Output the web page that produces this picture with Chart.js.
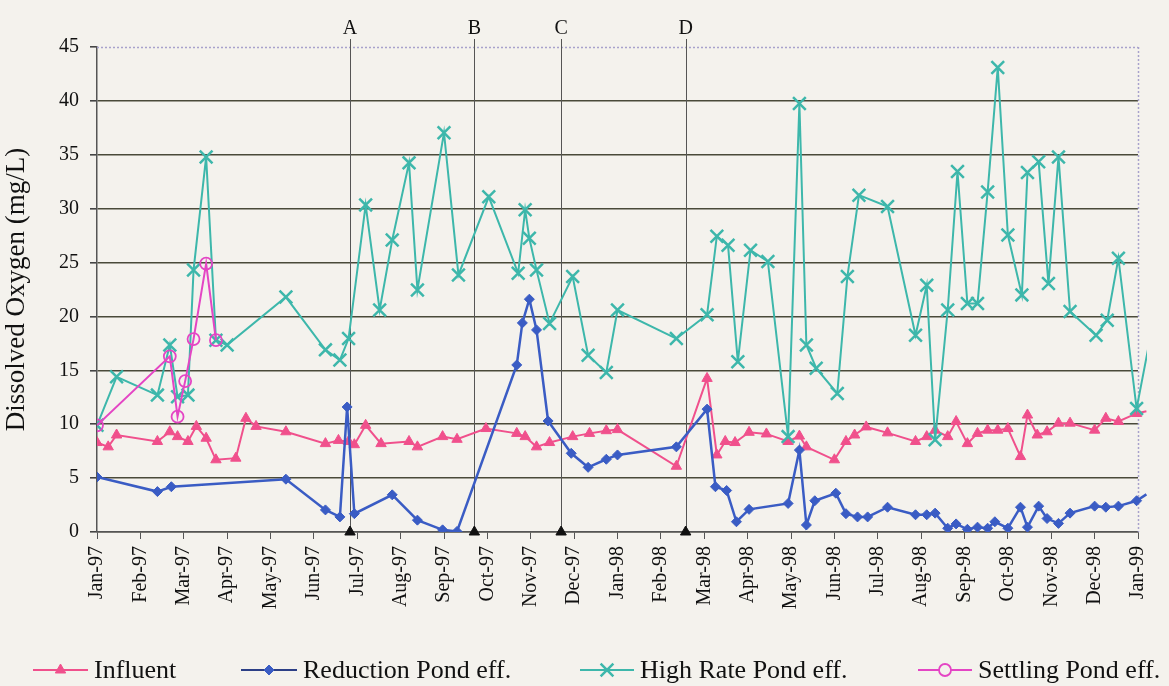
<!DOCTYPE html>
<html>
<head>
<meta charset="utf-8">
<script src="https://cdn.jsdelivr.net/npm/chart.js@4/dist/chart.umd.min.js"></script>
<style>
  html, body { margin: 0; background: #f4f2ed; }
  #wrap { width: 1169px; height: 686px; }
</style>
</head>
<body>
<div id="wrap"><canvas id="doChart" width="1169" height="686"></canvas></div>
<script>
// month tick labels (one per month, Jan-97 .. Jan-99)
const monthLabels = ["Jan-97","Feb-97","Mar-97","Apr-97","May-97","Jun-97","Jul-97","Aug-97","Sep-97","Oct-97","Nov-97","Dec-97",
  "Jan-98","Feb-98","Mar-98","Apr-98","May-98","Jun-98","Jul-98","Aug-98","Sep-98","Oct-98","Nov-98","Dec-98","Jan-99"];

// Influent
const influentDates = ["1997-01-01","1997-01-09","1997-01-15","1997-02-12","1997-02-20","1997-02-25","1997-03-04","1997-03-10","1997-03-17","1997-03-24",
  "1997-04-07","1997-04-14","1997-04-21","1997-05-12","1997-06-09","1997-06-18","1997-06-25","1997-06-29","1997-07-07","1997-07-18",
  "1997-08-07","1997-08-13","1997-08-31","1997-09-10","1997-09-30","1997-10-22","1997-10-28","1997-11-05","1997-11-14","1997-11-30",
  "1997-12-12","1997-12-24","1998-01-01","1998-02-11","1998-03-03","1998-03-10","1998-03-16","1998-03-23","1998-04-02","1998-04-14",
  "1998-04-29","1998-05-07","1998-05-12","1998-06-01","1998-06-09","1998-06-15","1998-06-23","1998-07-08","1998-07-28","1998-08-05",
  "1998-08-11","1998-08-20","1998-08-26","1998-09-03","1998-09-10","1998-09-17","1998-09-24","1998-10-01","1998-10-10","1998-10-15",
  "1998-10-22","1998-10-29","1998-11-06","1998-11-14","1998-12-01","1998-12-09","1998-12-18","1998-12-31","1999-01-07"];
const influentDO = [8.3,7.9,9.0,8.4,9.3,8.85,8.4,9.8,8.7,6.7,
  6.85,10.55,9.8,9.3,8.2,8.5,8.4,8.1,9.9,8.2,
  8.4,7.9,8.85,8.6,9.6,9.15,8.85,7.9,8.3,8.85,
  9.15,9.4,9.5,6.1,14.25,7.15,8.4,8.3,9.25,9.1,
  8.4,8.9,7.9,6.7,8.4,9.0,9.75,9.2,8.4,8.85,
  9.45,8.85,10.25,8.2,9.15,9.45,9.45,9.6,7.0,10.85,
  9.0,9.3,10.1,10.1,9.45,10.55,10.25,11.0,11.2];

// Reduction Pond eff.
const reductionDates = ["1997-01-01","1997-02-12","1997-02-21","1997-05-12","1997-06-09","1997-06-19","1997-06-24","1997-06-29","1997-07-26","1997-08-13",
  "1997-08-31","1997-09-10","1997-10-22","1997-10-26","1997-10-31","1997-11-05","1997-11-13","1997-11-29","1997-12-11","1997-12-24",
  "1998-01-01","1998-02-11","1998-03-03","1998-03-09","1998-03-17","1998-03-24","1998-04-02","1998-04-29","1998-05-07","1998-05-12",
  "1998-05-18","1998-06-02","1998-06-09","1998-06-17","1998-06-24","1998-07-08","1998-07-28","1998-08-05","1998-08-11","1998-08-20",
  "1998-08-26","1998-09-03","1998-09-10","1998-09-17","1998-09-22","1998-10-01","1998-10-10","1998-10-15","1998-10-23","1998-10-29",
  "1998-11-06","1998-11-14","1998-12-01","1998-12-09","1998-12-18","1998-12-31","1999-01-07"];
const reductionDO = [5.1,3.75,4.2,4.9,2.05,1.4,11.6,1.7,3.45,1.1,
  0.2,0.05,15.5,19.4,21.6,18.75,10.3,7.3,6.0,6.75,
  7.15,7.9,11.4,4.2,3.85,0.95,2.1,2.65,7.6,0.65,
  2.9,3.6,1.7,1.4,1.4,2.3,1.6,1.6,1.75,0.35,
  0.75,0.25,0.45,0.35,0.95,0.35,2.3,0.45,2.4,1.25,
  0.8,1.75,2.4,2.3,2.4,2.9,3.5];

// High Rate Pond eff.
const highRateDates = ["1997-01-01","1997-01-15","1997-02-12","1997-02-20","1997-02-25","1997-03-04","1997-03-08","1997-03-17","1997-03-24","1997-04-01",
  "1997-05-12","1997-06-09","1997-06-19","1997-06-25","1997-07-07","1997-07-17","1997-07-26","1997-08-07","1997-08-13","1997-09-01",
  "1997-09-11","1997-10-02","1997-10-23","1997-10-28","1997-10-31","1997-11-05","1997-11-14","1997-11-30","1997-12-11","1997-12-24",
  "1998-01-01","1998-02-11","1998-03-03","1998-03-10","1998-03-18","1998-03-25","1998-04-03","1998-04-15","1998-04-29","1998-05-07",
  "1998-05-12","1998-05-19","1998-06-03","1998-06-10","1998-06-18","1998-07-08","1998-07-28","1998-08-05","1998-08-11","1998-08-20",
  "1998-08-27","1998-09-03","1998-09-10","1998-09-17","1998-09-24","1998-10-01","1998-10-11","1998-10-15","1998-10-23","1998-10-30",
  "1998-11-06","1998-11-14","1998-12-02","1998-12-10","1998-12-18","1998-12-31","1999-01-10"];
const highRateDO = [9.9,14.4,12.7,17.35,12.55,12.7,24.3,34.8,17.8,17.35,
  21.8,16.9,15.95,17.95,30.35,20.6,27.1,34.25,22.45,37.05,
  23.85,31.1,24.0,29.9,27.25,24.3,19.35,23.7,16.4,14.8,
  20.6,17.95,20.15,27.45,26.6,15.8,26.15,25.1,8.85,39.75,
  17.35,15.2,12.85,23.7,31.25,30.2,18.25,22.9,8.55,20.6,
  33.45,21.2,21.2,31.55,43.1,27.55,22.0,33.35,34.35,23.05,
  34.8,20.45,18.25,19.65,25.4,11.45,18.2];

// Settling Pond eff.
const settlingDates = ["1997-01-01","1997-02-20","1997-02-25","1997-03-02","1997-03-08","1997-03-17","1997-03-24"];
const settlingDO = [9.9,16.3,10.7,14.0,17.9,24.9,17.8];

// events marked on the chart
const eventLabels = ["A","B","C","D"];
const eventDates = ["1997-06-26","1997-09-22","1997-11-22","1998-02-17"];

const SERIF = "'Liberation Serif', 'Times New Roman', serif";

// date string -> months since Jan 1997 (fractional)
function toMonth(s) {
  const [y, m, d] = s.split("-").map(Number);
  const dim = new Date(Date.UTC(y, m, 0)).getUTCDate();
  return (y - 1997) * 12 + (m - 1) + (d - 1) / dim;
}
function pts(dates, vals) {
  return dates.map((d, i) => ({ x: toMonth(d), y: vals[i] }));
}

const series = [
  { label: "Influent", data: pts(influentDates, influentDO), color: "#f0508c", style: "triangle", r: 6, fill: true, bw: 1, order: 4, lw: 2 },
  { label: "Reduction Pond eff.", data: pts(reductionDates, reductionDO), color: "#3a5cc4", style: "rectRot", r: 5, fill: true, bw: 1, order: 3, lw: 2.5 },
  { label: "High Rate Pond eff.", data: pts(highRateDates, highRateDO), color: "#3db7ab", style: "crossRot", r: 9, fill: false, bw: 2.5, order: 2, lw: 2 },
  { label: "Settling Pond eff.", data: pts(settlingDates, settlingDO), color: "#e445c4", style: "circle", r: 6, fill: false, bw: 1.8, order: 1, lw: 2 }
];

const datasets = series.map((s) => ({
  label: s.label,
  data: s.data,
  showLine: true,
  borderColor: s.color,
  borderWidth: s.lw,
  pointStyle: s.style,
  pointRadius: s.r,
  pointBorderWidth: s.bw,
  pointBorderColor: s.color,
  pointBackgroundColor: s.fill ? s.color : "rgba(0,0,0,0)",
  tension: 0,
  order: s.order,
  clip: { left: 0, top: 0, right: 9, bottom: 0 }
}));

// black triangles on the axis under each event line
datasets.push({
  label: "events",
  data: eventDates.map((d) => ({ x: toMonth(d), y: 0 })),
  showLine: false,
  pointStyle: "triangle",
  pointRadius: 6,
  pointBackgroundColor: "#111",
  pointBorderColor: "#111",
  pointBorderWidth: 1,
  order: 0,
  clip: false
});

const overlay = {
  id: "overlay",
  beforeDatasetsDraw(chart) {
    const { ctx, chartArea: a, scales: { x } } = chart;
    ctx.save();
    // dotted top and right border
    ctx.strokeStyle = "#a8a2cc";
    ctx.lineWidth = 1.5;
    ctx.setLineDash([2, 2]);
    ctx.beginPath();
    ctx.moveTo(a.left, a.top + 0.5);
    ctx.lineTo(a.right, a.top + 0.5);
    ctx.moveTo(a.right + 0.5, a.top);
    ctx.lineTo(a.right + 0.5, a.bottom);
    ctx.stroke();
    ctx.setLineDash([]);
    // event lines
    ctx.strokeStyle = "#555";
    ctx.lineWidth = 1;
    eventDates.forEach((d) => {
      const px = Math.round(x.getPixelForValue(toMonth(d))) + 0.5;
      ctx.beginPath();
      ctx.moveTo(px, a.top - 8);
      ctx.lineTo(px, a.bottom);
      ctx.stroke();
    });
    ctx.restore();
  },
  afterDraw(chart) {
    const { ctx, chartArea: a, scales: { x } } = chart;
    ctx.save();
    ctx.fillStyle = "#111";
    ctx.font = "20px " + SERIF;
    ctx.textAlign = "center";
    ctx.textBaseline = "alphabetic";
    eventDates.forEach((d, i) => {
      ctx.fillText(eventLabels[i], x.getPixelForValue(toMonth(d)), a.top - 13);
    });

    // legend: line + marker + text
    const legendY = 670;
    const slots = [
      { x0: 33, x1: 88, tx: 94 },
      { x0: 241, x1: 297, tx: 303 },
      { x0: 580, x1: 634, tx: 640 },
      { x0: 918, x1: 972, tx: 978 }
    ];
    series.forEach((s, i) => {
      const sl = slots[i];
      ctx.strokeStyle = i === 1 ? "#2c3f86" : s.color;
      ctx.lineWidth = 2;
      ctx.beginPath();
      ctx.moveTo(sl.x0, legendY);
      ctx.lineTo(sl.x1, legendY);
      ctx.stroke();
      ctx.strokeStyle = s.color;
      ctx.fillStyle = s.fill ? s.color : "#f4f2ed";
      ctx.lineWidth = s.bw;
      Chart.helpers.drawPoint(ctx, { pointStyle: s.style, radius: s.r, rotation: 0, borderWidth: s.bw }, (sl.x0 + sl.x1) / 2, legendY);
      ctx.fillStyle = "#111";
      ctx.font = "26px " + SERIF;
      ctx.textAlign = "left";
      ctx.textBaseline = "middle";
      ctx.fillText(s.label, sl.tx, legendY + 1);
    });
    ctx.restore();
  }
};

new Chart(document.getElementById("doChart").getContext("2d"), {
  type: "scatter",
  data: { datasets },
  options: {
    responsive: false,
    animation: false,
    devicePixelRatio: 1,
    layout: { padding: { top: 47, right: 22, left: 0, bottom: 0 } },
    plugins: { legend: { display: false }, tooltip: { enabled: false } },
    scales: {
      x: {
        type: "linear",
        min: 0,
        max: 24,
        afterFit: (axis) => { axis.height = 154; },
        afterBuildTicks: (axis) => { axis.ticks = monthLabels.map((_, i) => ({ value: i })); },
        ticks: {
          autoSkip: false,
          maxRotation: 90,
          minRotation: 90,
          padding: 7,
          color: "#111",
          font: { family: SERIF, size: 20 },
          callback: (v) => monthLabels[v]
        },
        grid: { drawOnChartArea: false, drawTicks: true, tickLength: 7, tickColor: "#555", lineWidth: 1 },
        border: { color: "#555", width: 1.5 }
      },
      y: {
        min: 0,
        max: 45,
        afterFit: (axis) => { axis.width = 97; },
        ticks: {
          stepSize: 5,
          padding: 11,
          color: "#111",
          font: { family: SERIF, size: 20 }
        },
        grid: {
          color: (c) => (c.tick && c.tick.value === 45 ? "rgba(0,0,0,0)" : "#4a4a3a"),
          lineWidth: 1.6,
          tickLength: 7,
          tickColor: "#444"
        },
        border: { color: "#555", width: 1.5 },
        title: {
          display: true,
          text: "Dissolved Oxygen (mg/L)",
          color: "#111",
          font: { family: SERIF, size: 27 },
          padding: { top: 1, bottom: 1 }
        }
      }
    }
  },
  plugins: [overlay]
});
</script>
</body>
</html>
